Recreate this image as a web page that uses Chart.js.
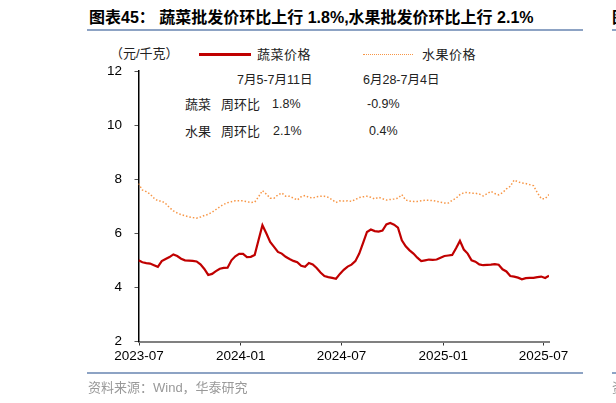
<!DOCTYPE html>
<html>
<head>
<meta charset="utf-8">
<script src="https://cdn.jsdelivr.net/npm/chart.js@4.4.0/dist/chart.umd.min.js"></script>
<style>
    body { margin: 0; width: 616px; height: 403px; background: #fff; overflow: hidden; position: relative;
           font-family: "Liberation Sans", Arial, "Noto Sans CJK SC", sans-serif; }
    #priceChart { position: absolute; left: 0; top: 0; }
    .txt { position: absolute; white-space: nowrap; line-height: 1; transform: translateY(-50%); color: #222; }
    .rule { position: absolute; height: 1.5px; background: #8da3c4; }
</style>
</head>
<body>

<div class="txt" style="left:89px; top:18px; font-size:16px; font-weight:bold; color:#000;">图表45：&nbsp;蔬菜批发价环比上行 1.8%,水果批发价环比上行 2.1%</div>
<div class="rule" style="left:87px; top:29px; width:496px;"></div>
<div class="txt" style="left:612px; top:18px; font-size:16px; font-weight:bold; color:#000;">图</div>
<div class="rule" style="left:612px; top:29px; width:10px;"></div>

<div class="txt" style="left:110px; top:53px; font-size:13px;">（元/千克）</div>
<div style="position:absolute; left:199px; top:53px; width:52px; height:2.5px; background:#c00000;"></div>
<div class="txt" style="left:257px; top:54px; font-size:13px; letter-spacing:0.5px;">蔬菜价格</div>
<div style="position:absolute; left:363px; top:53.5px; width:50px; height:0; border-top:1.5px dotted #f79646;"></div>
<div class="txt" style="left:422px; top:54px; font-size:13px; letter-spacing:0.5px;">水果价格</div>

<div class="txt" style="left:237px; top:80px; font-size:12.5px;">7月5-7月11日</div>
<div class="txt" style="left:363px; top:80px; font-size:12.5px;">6月28-7月4日</div>
<div class="txt" style="left:185px; top:104px; font-size:13px;">蔬菜</div>
<div class="txt" style="left:221px; top:104px; font-size:13px;">周环比</div>
<div class="txt" style="left:272px; top:104px; font-size:12.5px;">1.8%</div>
<div class="txt" style="left:367px; top:104px; font-size:12.5px;">-0.9%</div>
<div class="txt" style="left:185px; top:131px; font-size:13px;">水果</div>
<div class="txt" style="left:221px; top:131px; font-size:13px;">周环比</div>
<div class="txt" style="left:273px; top:131px; font-size:12.5px;">2.1%</div>
<div class="txt" style="left:369px; top:131px; font-size:12.5px;">0.4%</div>

<canvas id="priceChart" width="616" height="403"></canvas>

<div class="rule" style="left:87px; top:372px; width:496px;"></div>
<div class="txt" style="left:88px; top:387px; font-size:13px; color:#999;">资料来源：Wind，华泰研究</div>
<div class="rule" style="left:612px; top:372px; width:10px;"></div>
<div class="txt" style="left:612px; top:387px; font-size:13px; color:#999;">资</div>

<script>
// weekly readings (Friday of each week)
var weekDates = [
    '2023-06-30', '2023-07-07', '2023-07-14', '2023-07-21', '2023-07-28', '2023-08-04', '2023-08-11', '2023-08-18',
    '2023-08-25', '2023-09-01', '2023-09-08', '2023-09-15', '2023-09-22', '2023-09-29', '2023-10-06', '2023-10-13',
    '2023-10-20', '2023-10-27', '2023-11-03', '2023-11-10', '2023-11-17', '2023-11-24', '2023-12-01', '2023-12-08',
    '2023-12-15', '2023-12-22', '2023-12-29',
    '2024-01-05', '2024-01-12', '2024-01-19', '2024-01-26', '2024-02-02', '2024-02-09', '2024-02-16', '2024-02-23',
    '2024-03-01', '2024-03-08', '2024-03-15', '2024-03-22', '2024-03-29', '2024-04-05', '2024-04-12', '2024-04-19',
    '2024-04-26', '2024-05-03', '2024-05-10', '2024-05-17', '2024-05-24', '2024-05-31', '2024-06-07', '2024-06-14',
    '2024-06-21', '2024-06-28', '2024-07-05', '2024-07-12', '2024-07-19', '2024-07-26', '2024-08-02', '2024-08-09',
    '2024-08-16', '2024-08-23', '2024-08-30', '2024-09-06', '2024-09-13', '2024-09-20', '2024-09-27', '2024-10-04',
    '2024-10-11', '2024-10-18', '2024-10-25', '2024-11-01', '2024-11-08', '2024-11-15', '2024-11-22', '2024-11-29',
    '2024-12-06', '2024-12-13', '2024-12-20', '2024-12-27',
    '2025-01-03', '2025-01-10', '2025-01-17', '2025-01-24', '2025-01-31', '2025-02-07', '2025-02-14', '2025-02-21',
    '2025-02-28', '2025-03-07', '2025-03-14', '2025-03-21', '2025-03-28', '2025-04-04', '2025-04-11', '2025-04-18',
    '2025-04-25', '2025-05-02', '2025-05-09', '2025-05-16', '2025-05-23', '2025-05-30', '2025-06-06', '2025-06-13',
    '2025-06-20', '2025-06-27', '2025-07-04', '2025-07-11'
];

// 蔬菜价格 (元/千克)
var vegPrices = [
    5.00, 4.93, 4.90, 4.88, 4.82, 4.76, 4.97, 5.05, 5.12, 5.22, 5.16, 5.06, 5.00, 4.99, 4.98, 4.96,
    4.85, 4.68, 4.46, 4.50, 4.60, 4.69, 4.72, 4.73, 5.00, 5.15, 5.24,
    5.24, 5.12, 5.13, 5.20, 5.75, 6.30, 6.00, 5.68, 5.50, 5.31, 5.25, 5.13, 5.05, 4.98, 4.93, 4.80,
    4.76, 4.90, 4.85, 4.72, 4.55, 4.42, 4.38, 4.35, 4.32, 4.50, 4.65, 4.77, 4.84, 4.97, 5.25, 5.65,
    6.05, 6.14, 6.08, 6.06, 6.10, 6.33, 6.38, 6.32, 6.21, 5.74, 5.52, 5.37, 5.25, 5.10, 4.97, 5.00,
    5.03, 5.02, 5.03, 5.10,
    5.16, 5.18, 5.20, 5.45, 5.72, 5.40, 5.25, 5.00, 4.95, 4.85, 4.82, 4.83, 4.84, 4.86, 4.84, 4.67,
    4.59, 4.42, 4.40, 4.36, 4.30, 4.34, 4.35, 4.35, 4.38, 4.40, 4.35, 4.43
];

// 水果价格 (元/千克)
var fruitPrices = [
    7.84, 7.60, 7.54, 7.45, 7.30, 7.20, 7.19, 7.10, 6.95, 6.83, 6.75, 6.69, 6.65, 6.61, 6.58, 6.56,
    6.60, 6.66, 6.70, 6.78, 6.88, 6.98, 7.07, 7.13, 7.17, 7.20, 7.20,
    7.20, 7.17, 7.14, 7.15, 7.35, 7.58, 7.45, 7.30, 7.30, 7.42, 7.49, 7.37, 7.37, 7.30, 7.23, 7.35,
    7.40, 7.33, 7.30, 7.35, 7.37, 7.37, 7.33, 7.24, 7.14, 7.20, 7.19, 7.20, 7.18, 7.25, 7.32, 7.35,
    7.37, 7.33, 7.27, 7.33, 7.28, 7.23, 7.25, 7.27, 7.30, 7.43, 7.23, 7.19, 7.18, 7.18, 7.20, 7.22,
    7.22, 7.21, 7.18, 7.15,
    7.12, 7.12, 7.22, 7.30, 7.43, 7.50, 7.51, 7.48, 7.48, 7.45, 7.38, 7.46, 7.55, 7.47, 7.42, 7.50,
    7.64, 7.74, 7.97, 7.90, 7.86, 7.84, 7.80, 7.76, 7.50, 7.28, 7.28, 7.43
];

var xTickLabels = ['2023-07', '2024-01', '2024-07', '2025-01', '2025-07'];
var yTickValues = [2, 4, 6, 8, 10, 12];

// x axis is days counted from 2023-07-01 (no date adapter available)
var DAY = 86400000;
var baseTime = Date.parse('2023-07-01');

function toDay(dateStr) {
    return Math.round((Date.parse(dateStr) - baseTime) / DAY);
}

function buildPoints(values) {
    var pts = [];
    for (var i = 0; i < values.length; i++) {
        pts.push({ x: toDay(weekDates[i]), y: values[i] });
    }
    return pts;
}

var tickDays = xTickLabels.map(function (m) { return toDay(m + '-01'); });

Chart.defaults.font.family = '"Liberation Sans", Arial, sans-serif';
Chart.defaults.color = '#000';

var ctx = document.getElementById('priceChart').getContext('2d');
var priceChart = new Chart(ctx, {
    type: 'line',
    data: {
        datasets: [
            {
                label: '水果价格',
                data: buildPoints(fruitPrices),
                borderColor: '#f79646',
                borderWidth: 1.5,
                borderDash: [1.5, 2],
                pointRadius: 0,
                fill: false
            },
            {
                label: '蔬菜价格',
                data: buildPoints(vegPrices),
                borderColor: '#c00000',
                borderWidth: 2.2,
                pointRadius: 0,
                fill: false
            }
        ]
    },
    options: {
        responsive: false,
        animation: false,
        layout: {
            padding: { left: 78.5, right: 67, top: 71, bottom: 21.5 }
        },
        plugins: {
            legend: { display: false },
            tooltip: { enabled: false }
        },
        scales: {
            x: {
                type: 'linear',
                min: toDay(weekDates[0]),
                max: toDay(weekDates[weekDates.length - 1]),
                afterBuildTicks: function (scale) {
                    scale.ticks = tickDays.map(function (d) { return { value: d }; });
                },
                afterFit: function (scale) { scale.height = 40; },
                ticks: {
                    autoSkip: false,
                    maxRotation: 0,
                    padding: 3,
                    font: { size: 13.5 },
                    callback: function (value) {
                        var i = tickDays.indexOf(value);
                        return i >= 0 ? xTickLabels[i] : '';
                    }
                },
                grid: { drawOnChartArea: false, drawTicks: true, tickLength: 4, color: '#333' },
                border: { display: true, color: '#808080', width: 2 }
            },
            y: {
                min: 2,
                max: 12,
                afterBuildTicks: function (scale) {
                    scale.ticks = yTickValues.map(function (v) { return { value: v }; });
                },
                afterFit: function (scale) { scale.width = 60; },
                ticks: { padding: 12.5, font: { size: 13.5 } },
                grid: { drawOnChartArea: false, drawTicks: true, tickLength: 4, color: '#555' },
                border: { display: true, color: '#000', width: 1.5 }
            }
        }
    }
});
</script>
</body>
</html>
